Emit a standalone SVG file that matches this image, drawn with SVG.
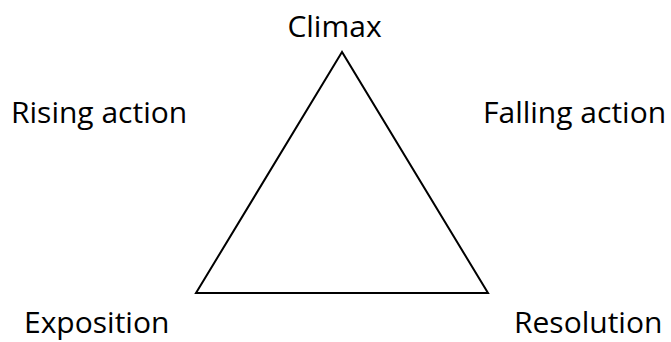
<svg xmlns="http://www.w3.org/2000/svg" width="671" height="342" viewBox="0 0 671 342">
<style>
text{font-family:"Open Sans","Noto Sans",sans-serif;font-size:30px;fill:#000}
.tri{fill:#fff;stroke:#000;stroke-width:2;stroke-linejoin:miter}
</style>
<rect width="671" height="342" fill="#fff"/>
<g id="connectors">
<polygon class="tri" points="342,52 196,293 488,293"/>
</g>
<g id="climax"><text x="334.5" y="37" text-anchor="middle">Climax</text></g>
<g id="rising"><text x="11" y="123">Rising action</text></g>
<g id="falling"><text x="483" y="123">Falling action</text></g>
<g id="exposition"><text x="24" y="333">Exposition</text></g>
<g id="resolution"><text x="514" y="333">Resolution</text></g>
</svg>
